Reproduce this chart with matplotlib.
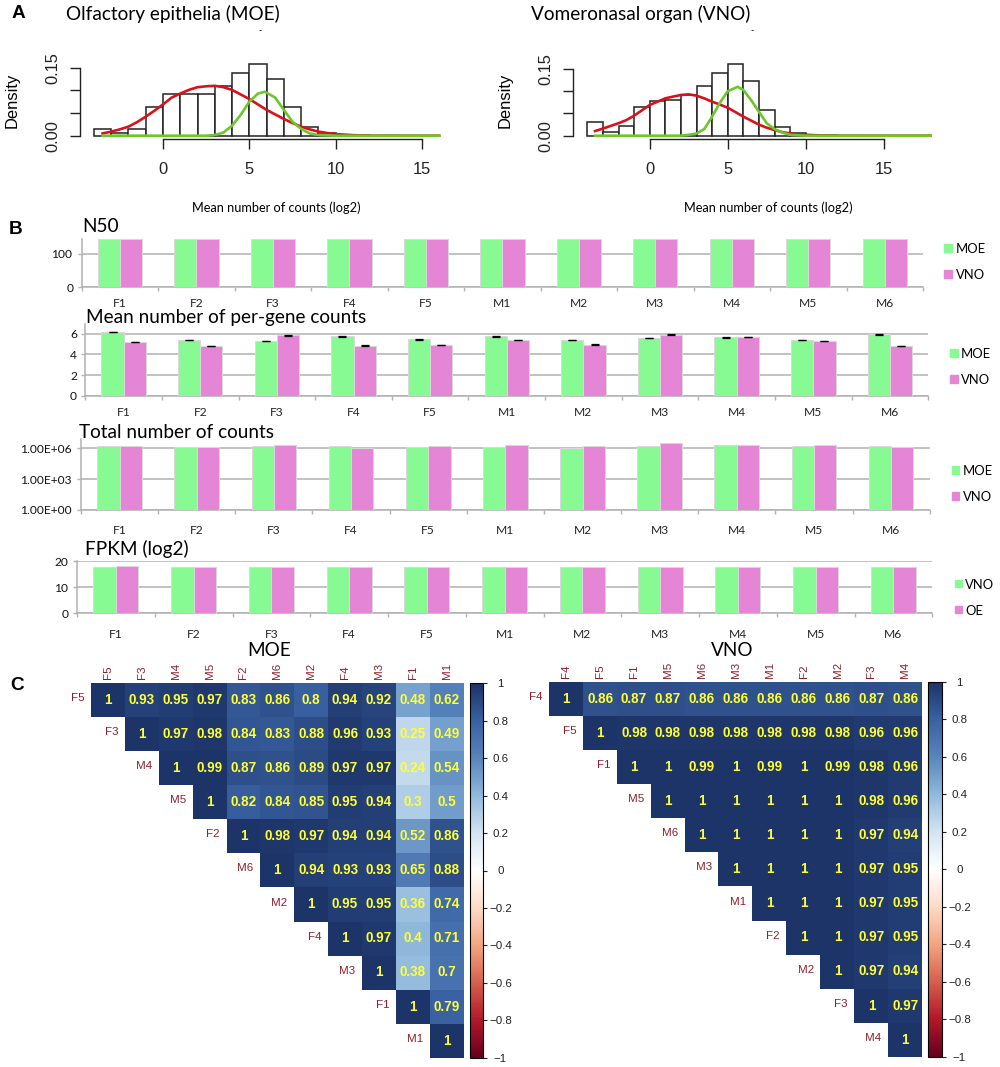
import numpy as np
import matplotlib
matplotlib.use('Agg')
import matplotlib.pyplot as plt
from matplotlib.colors import LinearSegmentedColormap
from matplotlib.patches import Rectangle
from matplotlib.ticker import NullLocator

W, H = 1000, 1067
PX = 0.72  # points per pixel at dpi 100

# histogram panels (bins start at -4, width 1)
moe_hist = [0.014, 0.005, 0.015, 0.064, 0.092, 0.092, 0.093, 0.110, 0.139, 0.159, 0.126, 0.064, 0.020, 0.005, 0.001, 0.001]
vno_hist = [0.0315, 0.0075, 0.022, 0.065, 0.079, 0.080, 0.0915, 0.1125, 0.142, 0.161, 0.123, 0.058, 0.020, 0.005, 0.001, 0.001]

moe_red_x = [-3.5, -3, -2.5, -2, -1.5, -1, -0.5, 0, 0.5, 1, 1.5, 2, 2.5, 3, 3.5, 4, 4.5, 5, 5.5, 6, 6.5, 7, 7.5, 8, 8.5, 9, 9.5, 10, 11, 12, 14, 16]
moe_red = [0.005, 0.009, 0.014, 0.020, 0.030, 0.042, 0.055, 0.069, 0.084, 0.093, 0.101, 0.107, 0.109, 0.110, 0.107, 0.101, 0.091, 0.081, 0.069, 0.057, 0.047, 0.037, 0.028, 0.020, 0.014, 0.009, 0.006, 0.0035, 0.0012, 0.0003, 0, 0]
moe_green_x = [-3.5, 2.5, 3, 3.5, 4, 4.5, 5, 5.5, 5.9, 6.5, 7, 7.5, 8, 8.5, 9, 10, 16]
moe_green = [0, 0, 0.0015, 0.007, 0.022, 0.046, 0.075, 0.093, 0.097, 0.084, 0.057, 0.031, 0.015, 0.005, 0.0015, 0, 0]

vno_red_x = [-3.5, -3, -2.5, -2, -1.5, -1, -0.5, 0, 0.5, 1, 1.5, 2, 2.5, 3, 3.5, 4, 4.5, 5, 5.5, 6, 6.5, 7, 7.5, 8, 8.5, 9, 9.5, 10, 11, 12, 14, 18]
vno_red = [0.0105, 0.016, 0.022, 0.028, 0.035, 0.045, 0.057, 0.069, 0.0765, 0.084, 0.088, 0.0915, 0.093, 0.090, 0.084, 0.0765, 0.070, 0.063, 0.053, 0.043, 0.034, 0.025, 0.018, 0.0127, 0.008, 0.005, 0.003, 0.002, 0.0006, 0.0001, 0, 0]
vno_green_x = [-3.5, 2, 2.5, 3, 3.5, 4, 4.5, 5, 5.64, 6, 6.5, 7, 7.5, 8, 8.5, 9, 10, 18]
vno_green = [0, 0, 0.002, 0.005, 0.015, 0.043, 0.074, 0.100, 0.110, 0.103, 0.080, 0.054, 0.028, 0.015, 0.007, 0.002, 0, 0]

# bar panels
samples = ['F1', 'F2', 'F3', 'F4', 'F5', 'M1', 'M2', 'M3', 'M4', 'M5', 'M6']
n50_moe = [144] * 11
n50_vno = [144] * 11
mean_moe = [6.15, 5.4, 5.3, 5.75, 5.45, 5.75, 5.4, 5.6, 5.65, 5.4, 5.95]
mean_vno = [5.2, 4.8, 5.85, 4.85, 4.9, 5.4, 4.95, 5.9, 5.7, 5.3, 4.8]
total_moe = [1.8e6, 1.25e6, 1.57e6, 1.57e6, 1.35e6, 1.45e6, 1.16e6, 1.7e6, 1.96e6, 1.57e6, 1.7e6]
total_vno = [1.8e6, 1.35e6, 2.1e6, 1.16e6, 1.57e6, 1.96e6, 1.7e6, 3.1e6, 1.96e6, 2.1e6, 1.45e6]
fpkm_a = [18.0, 17.9, 17.7, 17.8, 18.0, 18.0, 18.0, 18.0, 18.0, 18.0, 17.9]
fpkm_b = [18.1, 17.7, 17.7, 17.7, 17.8, 18.0, 17.7, 17.8, 17.7, 17.7, 17.9]

# correlation panels, upper triangles row by row
moe_names = ['F5', 'F3', 'M4', 'M5', 'F2', 'M6', 'M2', 'F4', 'M3', 'F1', 'M1']
moe_corr = [
    [1, .93, .95, .97, .83, .86, .8, .94, .92, .48, .62],
    [1, .97, .98, .84, .83, .88, .96, .93, .25, .49],
    [1, .99, .87, .86, .89, .97, .97, .24, .54],
    [1, .82, .84, .85, .95, .94, .3, .5],
    [1, .98, .97, .94, .94, .52, .86],
    [1, .94, .93, .93, .65, .88],
    [1, .95, .95, .36, .74],
    [1, .97, .4, .71],
    [1, .38, .7],
    [1, .79],
    [1],
]
vno_names = ['F4', 'F5', 'F1', 'M5', 'M6', 'M3', 'M1', 'F2', 'M2', 'F3', 'M4']
vno_corr = [
    [1, .86, .87, .87, .86, .86, .86, .86, .86, .87, .86],
    [1, .98, .98, .98, .98, .98, .98, .98, .96, .96],
    [1, 1, .99, 1, .99, 1, .99, .98, .96],
    [1, 1, 1, 1, 1, 1, .98, .96],
    [1, 1, 1, 1, 1, .97, .94],
    [1, 1, 1, 1, .97, .95],
    [1, 1, 1, .97, .95],
    [1, 1, .97, .95],
    [1, .97, .94],
    [1, .97],
    [1],
]
cbar_ticks = [1, 0.8, 0.6, 0.4, 0.2, 0, -0.2, -0.4, -0.6, -0.8, -1]

GREEN = '#88FA94'
PINK = '#E585D5'
GRID = '#b2b2b2'
CAL = ['Lato', 'DejaVu Sans']
ARIAL = ['Liberation Sans', 'DejaVu Sans']

fig = plt.figure(figsize=(W / 100, H / 100), dpi=100)


def ax_px(left, top, right, bottom):
    return fig.add_axes([left / W, 1 - bottom / H, (right - left) / W, (bottom - top) / H])


def txt(x, y, s, size, family=CAL, **kw):
    kw.setdefault('va', 'center')
    fig.text(x / W, 1 - y / H, s, fontsize=size * PX, family=family, **kw)


def hist_panel(x0, x5, y0, y15, axis_left, hist, rx, red, gx, green, xmax_px):
    per_x = (x5 - x0) / 5
    per_y = (y0 - y15) / 0.15
    ax = ax_px(axis_left, 55, xmax_px, 139)
    ax.set_xlim((axis_left - x0) / per_x, (xmax_px - x0) / per_x)
    ax.set_ylim(-(139 - y0) / per_y, (y0 - 55) / per_y)
    edges = np.arange(-4, -4 + len(hist))
    ax.bar(edges, hist, width=1, align='edge', facecolor='white', edgecolor='#222222', linewidth=1.1, clip_on=False)
    ax.plot(rx, red, color='#D8121C', lw=1.9, clip_on=False)
    ax.plot(gx, green, color='#6CC82A', lw=1.9, clip_on=False)
    for s in ['top', 'right']:
        ax.spines[s].set_visible(False)
    ax.spines['left'].set_bounds(0, 0.15)
    ax.spines['bottom'].set_bounds(0, 15)
    for s in ['left', 'bottom']:
        ax.spines[s].set_color('#222222')
        ax.spines[s].set_linewidth(1.0)
    ax.patch.set_alpha(0)
    ax.set_xticks([0, 5, 10, 15])
    ax.set_yticks([0, 0.05, 0.10, 0.15], ['0.00', '', '', '0.15'])
    ax.tick_params(axis='x', length=9.5 * PX, width=1.0, pad=14 * PX, labelsize=16.5 * PX, colors='#222222')
    ax.tick_params(axis='y', length=10 * PX, width=1.0, pad=10 * PX, labelsize=16.5 * PX, colors='#222222')
    for lab in ax.get_xticklabels() + ax.get_yticklabels():
        lab.set_family(ARIAL)
    for lab in ax.get_yticklabels():
        lab.set_rotation(90)
        lab.set_va('center')


def bar_panel(rect, a, b, ylim, yticks, ylabels, err=None, log=False, label_pad=9):
    ax = ax_px(*rect)
    x = np.arange(11) + 0.5
    w = 0.29
    if log:
        ax.set_yscale('log')
    ax.bar(x - w / 2, a, width=w, color=GREEN, edgecolor='#d9d9d9', linewidth=0.7, zorder=3)
    ax.bar(x + w / 2, b, width=w, color=PINK, edgecolor='#d9d9d9', linewidth=0.7, zorder=3)
    if err is not None:
        ax.errorbar(x - w / 2, a, yerr=err, fmt='none', ecolor='black', elinewidth=0.7, capsize=2.6, capthick=0.9, zorder=4)
        ax.errorbar(x + w / 2, b, yerr=err, fmt='none', ecolor='black', elinewidth=0.7, capsize=2.6, capthick=0.9, zorder=4)
    ax.set_xlim(0, 11)
    ax.set_ylim(*ylim)
    ax.set_xticks(np.arange(12))
    ax.set_xticklabels([])
    ax.set_xticks(x, samples, minor=True)
    ax.tick_params(axis='x', which='major', length=3, width=1, color=GRID)
    ax.tick_params(axis='x', which='minor', length=0, pad=label_pad, labelsize=12 * PX, labelcolor='#222222')
    ax.set_yticks(yticks, ylabels)
    ax.yaxis.set_minor_locator(NullLocator())
    ax.tick_params(axis='y', length=3, width=1, color=GRID, pad=3, labelsize=12 * PX, labelcolor='#111111')
    ax.grid(axis='y', which='major', color=GRID, lw=1.1, zorder=0)
    ax.set_axisbelow(True)
    for s in ['top', 'right']:
        ax.spines[s].set_visible(False)
    for s in ['left', 'bottom']:
        ax.spines[s].set_color(GRID)
        ax.spines[s].set_linewidth(1.1)
    for lab in ax.get_xticklabels(minor=True) + ax.get_yticklabels():
        lab.set_family(CAL)


def legend_px(x, ys, names, text_x):
    for y, name, col in zip(ys, names, [GREEN, PINK]):
        fig.add_artist(Rectangle(((x - 3.7) / W, 1 - (y + 3.7) / H), 7.4 / W, 7.4 / H, color=col, transform=fig.transFigure))
        txt(text_x, y + 1, name, 13)


def corr_panel(rect, crect, names, rows):
    n = len(names)
    m = np.full((n, n), np.nan)
    for i, row in enumerate(rows):
        m[i, i:] = row
    ax = ax_px(*rect)
    im = ax.imshow(m, cmap=corr_cmap, vmin=-1, vmax=1, aspect='auto', interpolation='nearest')
    for i, row in enumerate(rows):
        for j, v in enumerate(row):
            ax.text(i + j, i, f'{v:g}', ha='center', va='center', color='#FFFF33', fontweight='bold',
                    fontsize=13.5 * PX, family=ARIAL)
        ax.text(i - 0.7, i - 0.05, names[i], ha='right', va='center', color='#8E1F2A', fontsize=11.5 * PX, family=ARIAL)
        ax.text(i, -0.6, names[i], ha='center', va='bottom', rotation=90, color='#8E1F2A', fontsize=11.5 * PX, family=ARIAL)
    ax.axis('off')
    cax = ax_px(*crect)
    cb = fig.colorbar(im, cax=cax, ticks=cbar_ticks)
    cb.ax.set_yticklabels(['1', '0.8', '0.6', '0.4', '0.2', '0', '\u22120.2', '\u22120.4', '\u22120.6', '\u22120.8', '\u22121'])
    cb.ax.tick_params(length=3, width=0.8, pad=13 * PX, labelsize=11.5 * PX, colors='#222222')
    cb.outline.set_linewidth(0.8)
    for lab in cb.ax.get_yticklabels():
        lab.set_family(ARIAL)
        lab.set_ha('center')


corr_cmap = LinearSegmentedColormap.from_list('corr', [
    '#67001F', '#B2182B', '#D6604D', '#F4A582', '#FDDBC7', '#FFFFFF',
    '#D3E4F2', '#91B9DC', '#5885BC', '#3A62A2', '#1D3468'], N=200)
corr_cmap.set_bad('white')

# A
hist_panel(163, 249.3, 135.7, 67.7, 80, moe_hist, moe_red_x, moe_red, moe_green_x, moe_green, 440)
hist_panel(649.7, 727.7, 135.7, 69, 573, vno_hist, vno_red_x, vno_red, vno_green_x, vno_green, 935)
txt(66, 14, 'Olfactory epithelia (MOE)', 19)
txt(531, 14, 'Vomeronasal organ (VNO)', 19)
txt(258, 31, '-', 9)
txt(750, 31, '-', 9)
txt(12.5, 100, 'Density', 16.5, family=ARIAL, rotation=90, ha='center')
txt(505, 100, 'Density', 16.5, family=ARIAL, rotation=90, ha='center')
txt(276.5, 208, 'Mean number of counts (log2)', 12.7, ha='center')
txt(768.5, 208, 'Mean number of counts (log2)', 12.7, ha='center')

# B
bar_panel((81.7, 239.3, 923, 287.3), n50_moe, n50_vno, (0, 144), [0, 100], ['0', '100'], label_pad=8)
bar_panel((85.3, 324, 928.3, 395.7), mean_moe, mean_vno, (0, 6.94), [0, 2, 4, 6], ['0', '2', '4', '6'], err=0.03, label_pad=8)
bar_panel((81, 439, 929.7, 509.7), total_moe, total_vno, (1, 10 ** 6.91), [1, 1e3, 1e6], ['1.00E+00', '1.00E+03', '1.00E+06'], log=True, label_pad=11)
bar_panel((77, 561.3, 932.3, 613.3), fpkm_a, fpkm_b, (0, 20), [0, 10, 20], ['0', '10', '20'], label_pad=11)
txt(82.7, 227, 'N50', 19)
txt(86, 318, 'Mean number of per-gene counts', 19)
txt(79, 432, 'Total number of counts', 19)
txt(84.7, 549, 'FPKM (log2)', 19)
legend_px(948, [248, 274], ['MOE', 'VNO'], 955.7)
legend_px(954, [353, 379], ['MOE', 'VNO'], 961)
legend_px(955.7, [470, 496], ['MOE', 'VNO'], 962.7)
legend_px(958.3, [583.7, 609.7], ['VNO', 'OE'], 965)

# C
corr_panel((91, 682.7, 463.7, 1057.7), (470, 683.3, 483.3, 1057.7), moe_names, moe_corr)
corr_panel((549.3, 681.7, 922.3, 1056.7), (928.3, 681.7, 942.3, 1056.7), vno_names, vno_corr)
txt(269.5, 650, 'MOE', 19, ha='center')
txt(732, 650, 'VNO', 19, ha='center')

# panel letters
txt(18, 14, 'A', 19, family=ARIAL, fontweight='bold', ha='center')
txt(16, 229, 'B', 19, family=ARIAL, fontweight='bold', ha='center')
txt(17, 686, 'C', 19, family=ARIAL, fontweight='bold', ha='center')

fig.savefig('out.png', dpi=100)
